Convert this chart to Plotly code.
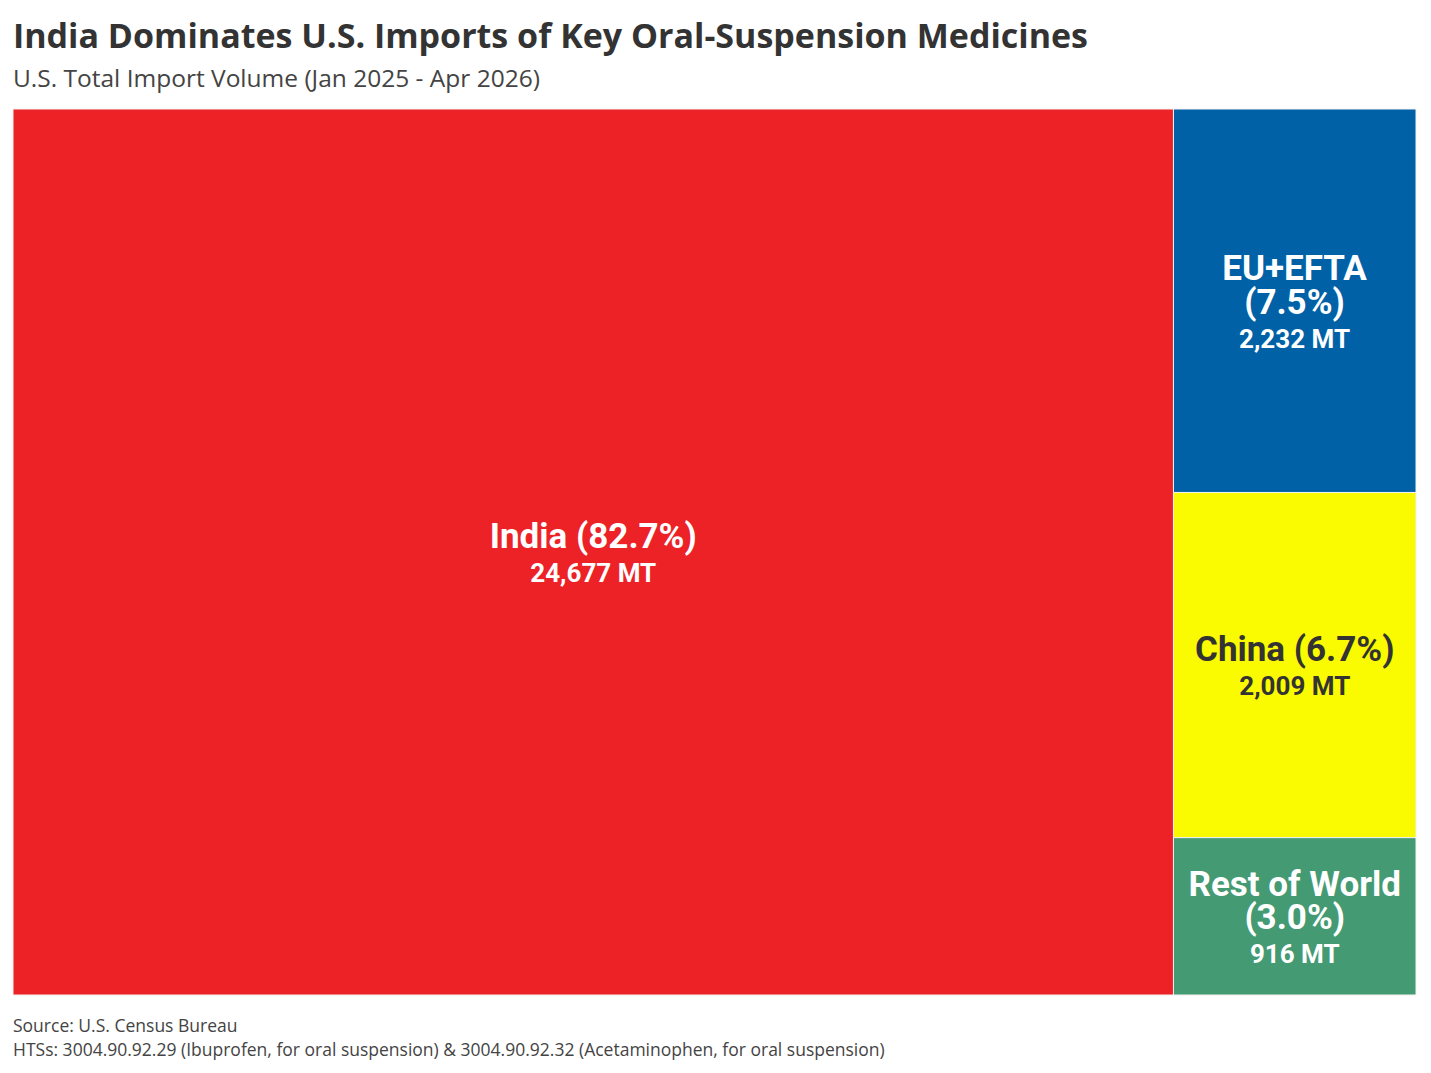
import plotly.graph_objects as go

regions = ["India", "EU+EFTA", "China", "Rest of World"]
volumes_mt = [24677, 2232, 2009, 916]
share_pct = ["82.7%", "7.5%", "6.7%", "3.0%"]
volume_text = ["24,677 MT", "2,232 MT", "2,009 MT", "916 MT"]

colors = ["#EC2227", "#0061A7", "#FAFA00", "#449A73"]
text_colors = ["#FFFFFF", "#FFFFFF", "#333333", "#FFFFFF"]
# narrow tiles put the share on its own line
joiner = [" ", "<br>", " ", "<br>"]

tile_text = [
    f"<span style='font-size:35px'>{r}{j}({s})</span><br>{v}"
    for r, j, s, v in zip(regions, joiner, share_pct, volume_text)
]

fig = go.Figure(go.Treemap(
    labels=regions,
    parents=[""] * len(regions),
    values=volumes_mt,
    text=tile_text,
    texttemplate="<b>%{text}</b>",
    textposition="middle center",
    textfont=dict(family="Roboto", size=26, color=text_colors),
    marker=dict(colors=colors, line=dict(color="#F2F2F2", width=1), pad=dict(t=0, l=0, r=0, b=0)),
    tiling=dict(packing="squarify", pad=0),
    pathbar=dict(visible=False),
    hovertemplate="%{label}<br>%{value:,} MT<extra></extra>",
    sort=True,
))

# page has an 8px body margin, so margins are trimmed by that much
fig.update_layout(
    width=1431, height=1073,
    margin=dict(l=5, r=23, t=101, b=86),
    paper_bgcolor="white",
    font=dict(family="Open Sans", color="#333333"),
    annotations=[
        dict(text="<b>India Dominates U.S. Imports of Key Oral-Suspension Medicines</b>",
             xref="paper", yref="paper", x=0, y=1, xanchor="left", yanchor="middle",
             xshift=-2, yshift=74, showarrow=False, font=dict(size=34, color="#333333")),
        dict(text="U.S. Total Import Volume (Jan 2025 - Apr 2026)",
             xref="paper", yref="paper", x=0, y=1, xanchor="left", yanchor="middle",
             xshift=-2, yshift=32, showarrow=False, font=dict(size=24.5, color="#444444")),
        dict(text="Source: U.S. Census Bureau",
             xref="paper", yref="paper", x=0, y=0, xanchor="left", yanchor="middle",
             xshift=-2, yshift=-30, showarrow=False, font=dict(size=17.5, color="#444444")),
        dict(text="HTSs: 3004.90.92.29 (Ibuprofen, for oral suspension) & 3004.90.92.32 (Acetaminophen, for oral suspension)",
             xref="paper", yref="paper", x=0, y=0, xanchor="left", yanchor="middle",
             xshift=-2, yshift=-54, showarrow=False, font=dict(size=17.5, color="#444444")),
    ],
)

fig.write_html("out.html")
